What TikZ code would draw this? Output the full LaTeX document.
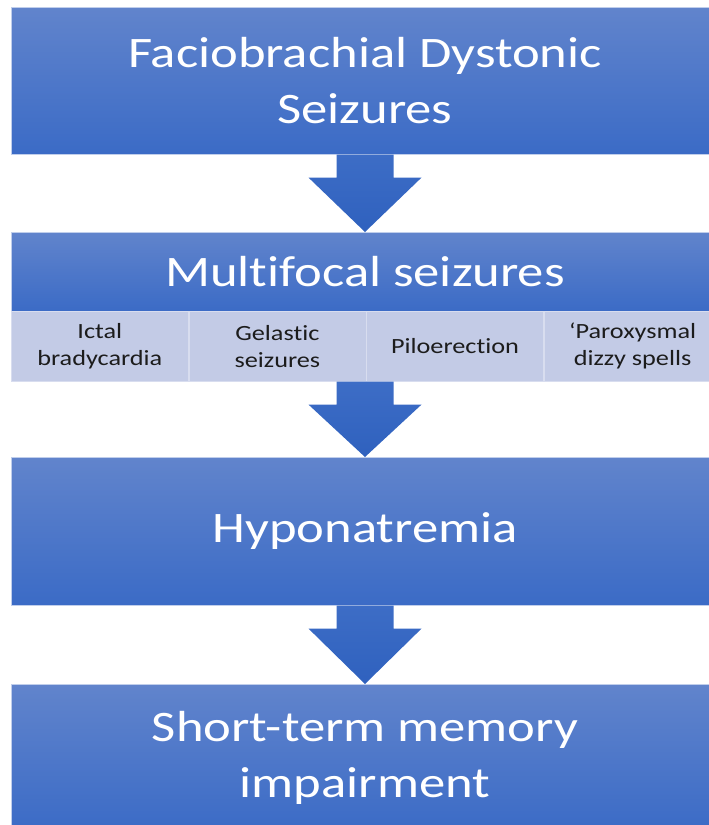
\documentclass[tikz,border=0pt]{standalone}
\usepackage{fontspec}
\setmainfont[FakeStretch=1.21,Ligatures=NoCommon]{Carlito}
\usetikzlibrary{calc,positioning}

\definecolor{boxtop}{HTML}{6184CC}
\definecolor{boxbot}{HTML}{3B6BC6}
\definecolor{arrtop}{HTML}{3D6DC6}
\definecolor{arrbot}{HTML}{2F61BE}
\definecolor{subfill}{HTML}{C3CBE6}
\definecolor{subtext}{HTML}{1C1C1C}

\tikzset{
  stagebox/.style={rectangle, inner sep=0pt, minimum width=708pt, anchor=north,
    top color=boxtop, bottom color=boxbot, draw=white!60!boxtop, line width=0.6pt,
    text=white, align=center},
  bigtext/.style={font=\fontsize{43.5}{56}\selectfont},
  subbox/.style={rectangle, inner sep=0pt, minimum width=177pt, minimum height=70pt,
    anchor=north west, fill=subfill, draw=white!35!subfill, line width=0.6pt,
    text=subtext, align=center, font=\fontsize{21.7}{27}\selectfont},
  fatarrow/.style={top color=arrtop, bottom color=arrbot, draw=none}
}

% block arrow from one anchor (bottom of a box) down to another (top of the next)
\newcommand\blockarrow[2]{%
  \path[fatarrow] let \p1=(#1), \p2=(#2) in
    (\x1-28.5pt,\y1) -- (\x1+28.5pt,\y1) -- (\x1+28.5pt,\y1-23pt) -- (\x1+56.5pt,\y1-23pt)
    -- (\x1,\y2) -- (\x1-56.5pt,\y1-23pt) -- (\x1-28.5pt,\y1-23pt) -- cycle;}

\begin{document}
\begin{tikzpicture}[x=1pt,y=1pt]
\useasboundingbox (0,0) rectangle (709,-825);
\begin{scope}
  \clip (0,0) rectangle (709,-825);

  % ======================= the four stages =======================
  \node[stagebox, bigtext, minimum height=147pt] (fds) at (365,-7)
    {Faciobrachial Dystonic\\Seizures};
  \node[stagebox, bigtext, minimum height=79pt] (multi) at (365,-232)
    {Multifocal seizures};
  \node[stagebox, bigtext, minimum height=148pt] (hypo) at (365,-457)
    {Hyponatremia};
  \node[stagebox, bigtext, minimum height=147pt] (memory) at (365,-684)
    {Short-term memory\\impairment};

  % ======================= features of the multifocal seizures ====
  \node[subbox] (ictal) at (11,-311) {Ictal\\bradycardia};
  \node[subbox, right=0pt of ictal] (gelastic) {Gelastic\\seizures};
  \node[subbox, right=0pt of gelastic] (pilo) {Piloerection};
  \node[subbox, right=0pt of pilo] (dizzy) {‘Paroxysmal\\dizzy spells};
  \coordinate (featbot) at (multi.south |- pilo.south);

  % ======================= arrows between the stages ==============
  \blockarrow{fds.south}{multi.north}
  \blockarrow{featbot}{hypo.north}
  \blockarrow{hypo.south}{memory.north}
\end{scope}
\end{tikzpicture}
\end{document}
